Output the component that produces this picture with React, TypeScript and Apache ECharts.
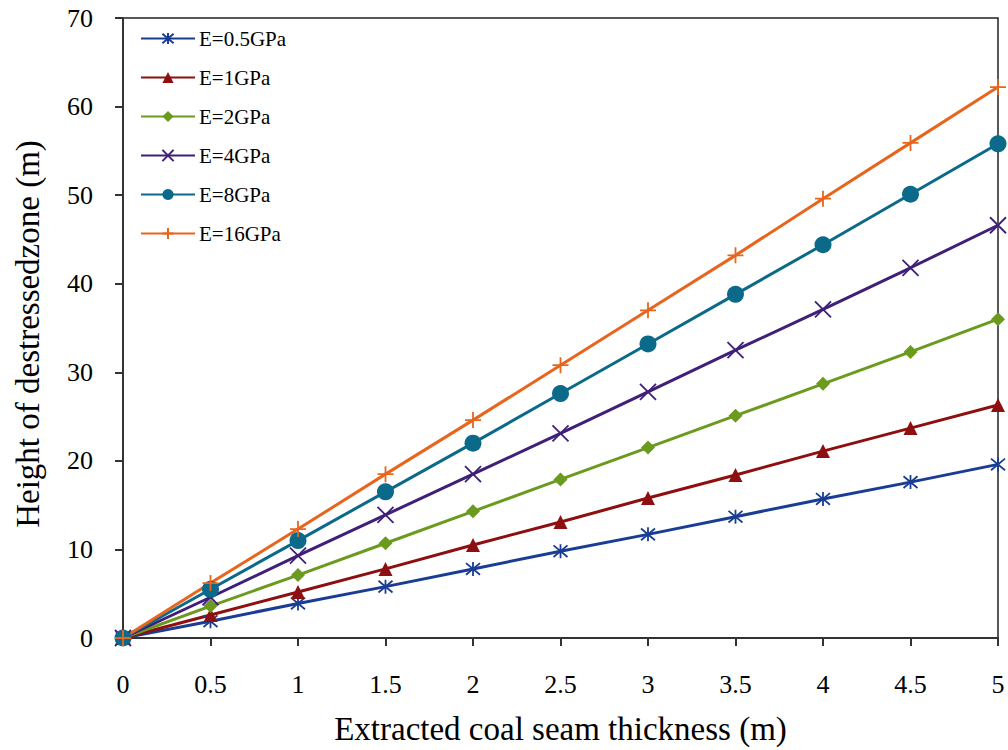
import React, { useEffect, useRef } from "react";
import * as echarts from "echarts";

const xValues = [0, 0.5, 1, 1.5, 2, 2.5, 3, 3.5, 4, 4.5, 5];
const seriesNames = ["E=0.5GPa", "E=1GPa", "E=2GPa", "E=4GPa", "E=8GPa", "E=16GPa"];
const e05 = [0, 1.9, 3.9, 5.8, 7.8, 9.8, 11.7, 13.7, 15.7, 17.6, 19.6];
const e1 = [0, 2.6, 5.2, 7.8, 10.5, 13.1, 15.8, 18.4, 21.1, 23.7, 26.3];
const e2 = [0, 3.6, 7.1, 10.7, 14.3, 17.9, 21.5, 25.1, 28.7, 32.3, 36.0];
const e4 = [0, 4.6, 9.3, 13.9, 18.5, 23.1, 27.8, 32.5, 37.1, 41.8, 46.6];
const e8 = [0, 5.5, 11.0, 16.5, 22.0, 27.6, 33.2, 38.8, 44.4, 50.1, 55.8];
const e16 = [0, 6.2, 12.3, 18.5, 24.6, 30.8, 37.0, 43.2, 49.6, 55.9, 62.2];
const yTitle = "Height of destressedzone (m)";
const xTitle = "Extracted coal seam thickness (m)";

const colors = ["#1a3d94", "#8e0f0f", "#6c9a1e", "#3f1f78", "#0b6a8a", "#e8651e"];
const symbols = [
  "path://M0,0L10,10M10,0L0,10M5,-1L5,11",
  "triangle",
  "diamond",
  "path://M0,0L10,10M10,0L0,10",
  "circle",
  "path://M5,0L5,10M0,5L10,5",
];
const symbolSizes = [14, 14, 14, 16, 17, 16];
const dataSets = [e05, e1, e2, e4, e8, e16];

export default function App() {
  const ref = useRef<HTMLDivElement>(null);
  useEffect(() => {
    const chart = echarts.init(ref.current!, null, { renderer: "svg" });
    const font = "'Liberation Serif', 'Times New Roman', serif";
    chart.setOption({
      animation: false,
      textStyle: { fontFamily: font },
      grid: {
        left: 123,
        right: 10,
        top: 18,
        bottom: 110,
        show: true,
        borderColor: "#222",
        borderWidth: 1.5,
      },
      graphic: [
        {
          type: "text",
          x: 28,
          y: 334,
          rotation: Math.PI / 2,
          style: {
            text: yTitle,
            fontFamily: font,
            fontSize: 33,
            fill: "#000",
            textAlign: "center",
            textVerticalAlign: "middle",
          },
        },
      ],
      legend: {
        orient: "vertical",
        left: 135,
        top: 23,
        itemWidth: 54,
        itemHeight: 14,
        itemGap: 18,
        textStyle: { fontFamily: font, fontSize: 21, color: "#000", padding: [0, 0, 0, -1] },
        data: seriesNames,
      },
      xAxis: {
        type: "value",
        min: 0,
        max: 5,
        interval: 0.5,
        name: xTitle,
        nameLocation: "middle",
        nameGap: 74,
        nameTextStyle: { fontFamily: font, fontSize: 33, color: "#000" },
        axisLine: { show: true, lineStyle: { color: "#333", width: 2 } },
        axisTick: { show: true, inside: false, length: 8, lineStyle: { color: "#333", width: 2 } },
        axisLabel: { fontFamily: font, fontSize: 26, color: "#000", margin: 33 },
        splitLine: { show: false },
      },
      yAxis: {
        type: "value",
        min: 0,
        max: 70,
        interval: 10,
        axisLine: { show: true, lineStyle: { color: "#333", width: 2 } },
        axisTick: { show: true, inside: false, length: 8, lineStyle: { color: "#333", width: 2 } },
        axisLabel: { fontFamily: font, fontSize: 26, color: "#000", margin: 30 },
        splitLine: { show: false },
      },
      series: dataSets.map((d, i) => ({
        name: seriesNames[i],
        type: "line",
        data: d.map((v, j) => [xValues[j], v]),
        symbol: symbols[i],
        symbolSize: symbolSizes[i],
        showAllSymbol: true,
        lineStyle: { color: colors[i], width: 3 },
        itemStyle: {
          color: colors[i],
          borderColor: colors[i],
          borderWidth: i === 0 || i === 3 || i === 5 ? 1.8 : 0,
        },
        emphasis: { disabled: true },
      })),
    });
    return () => chart.dispose();
  }, []);
  return (
    <div
      ref={ref}
      style={{ position: "fixed", left: 0, top: 0, width: 1008, height: 750, background: "#fff" }}
    />
  );
}
